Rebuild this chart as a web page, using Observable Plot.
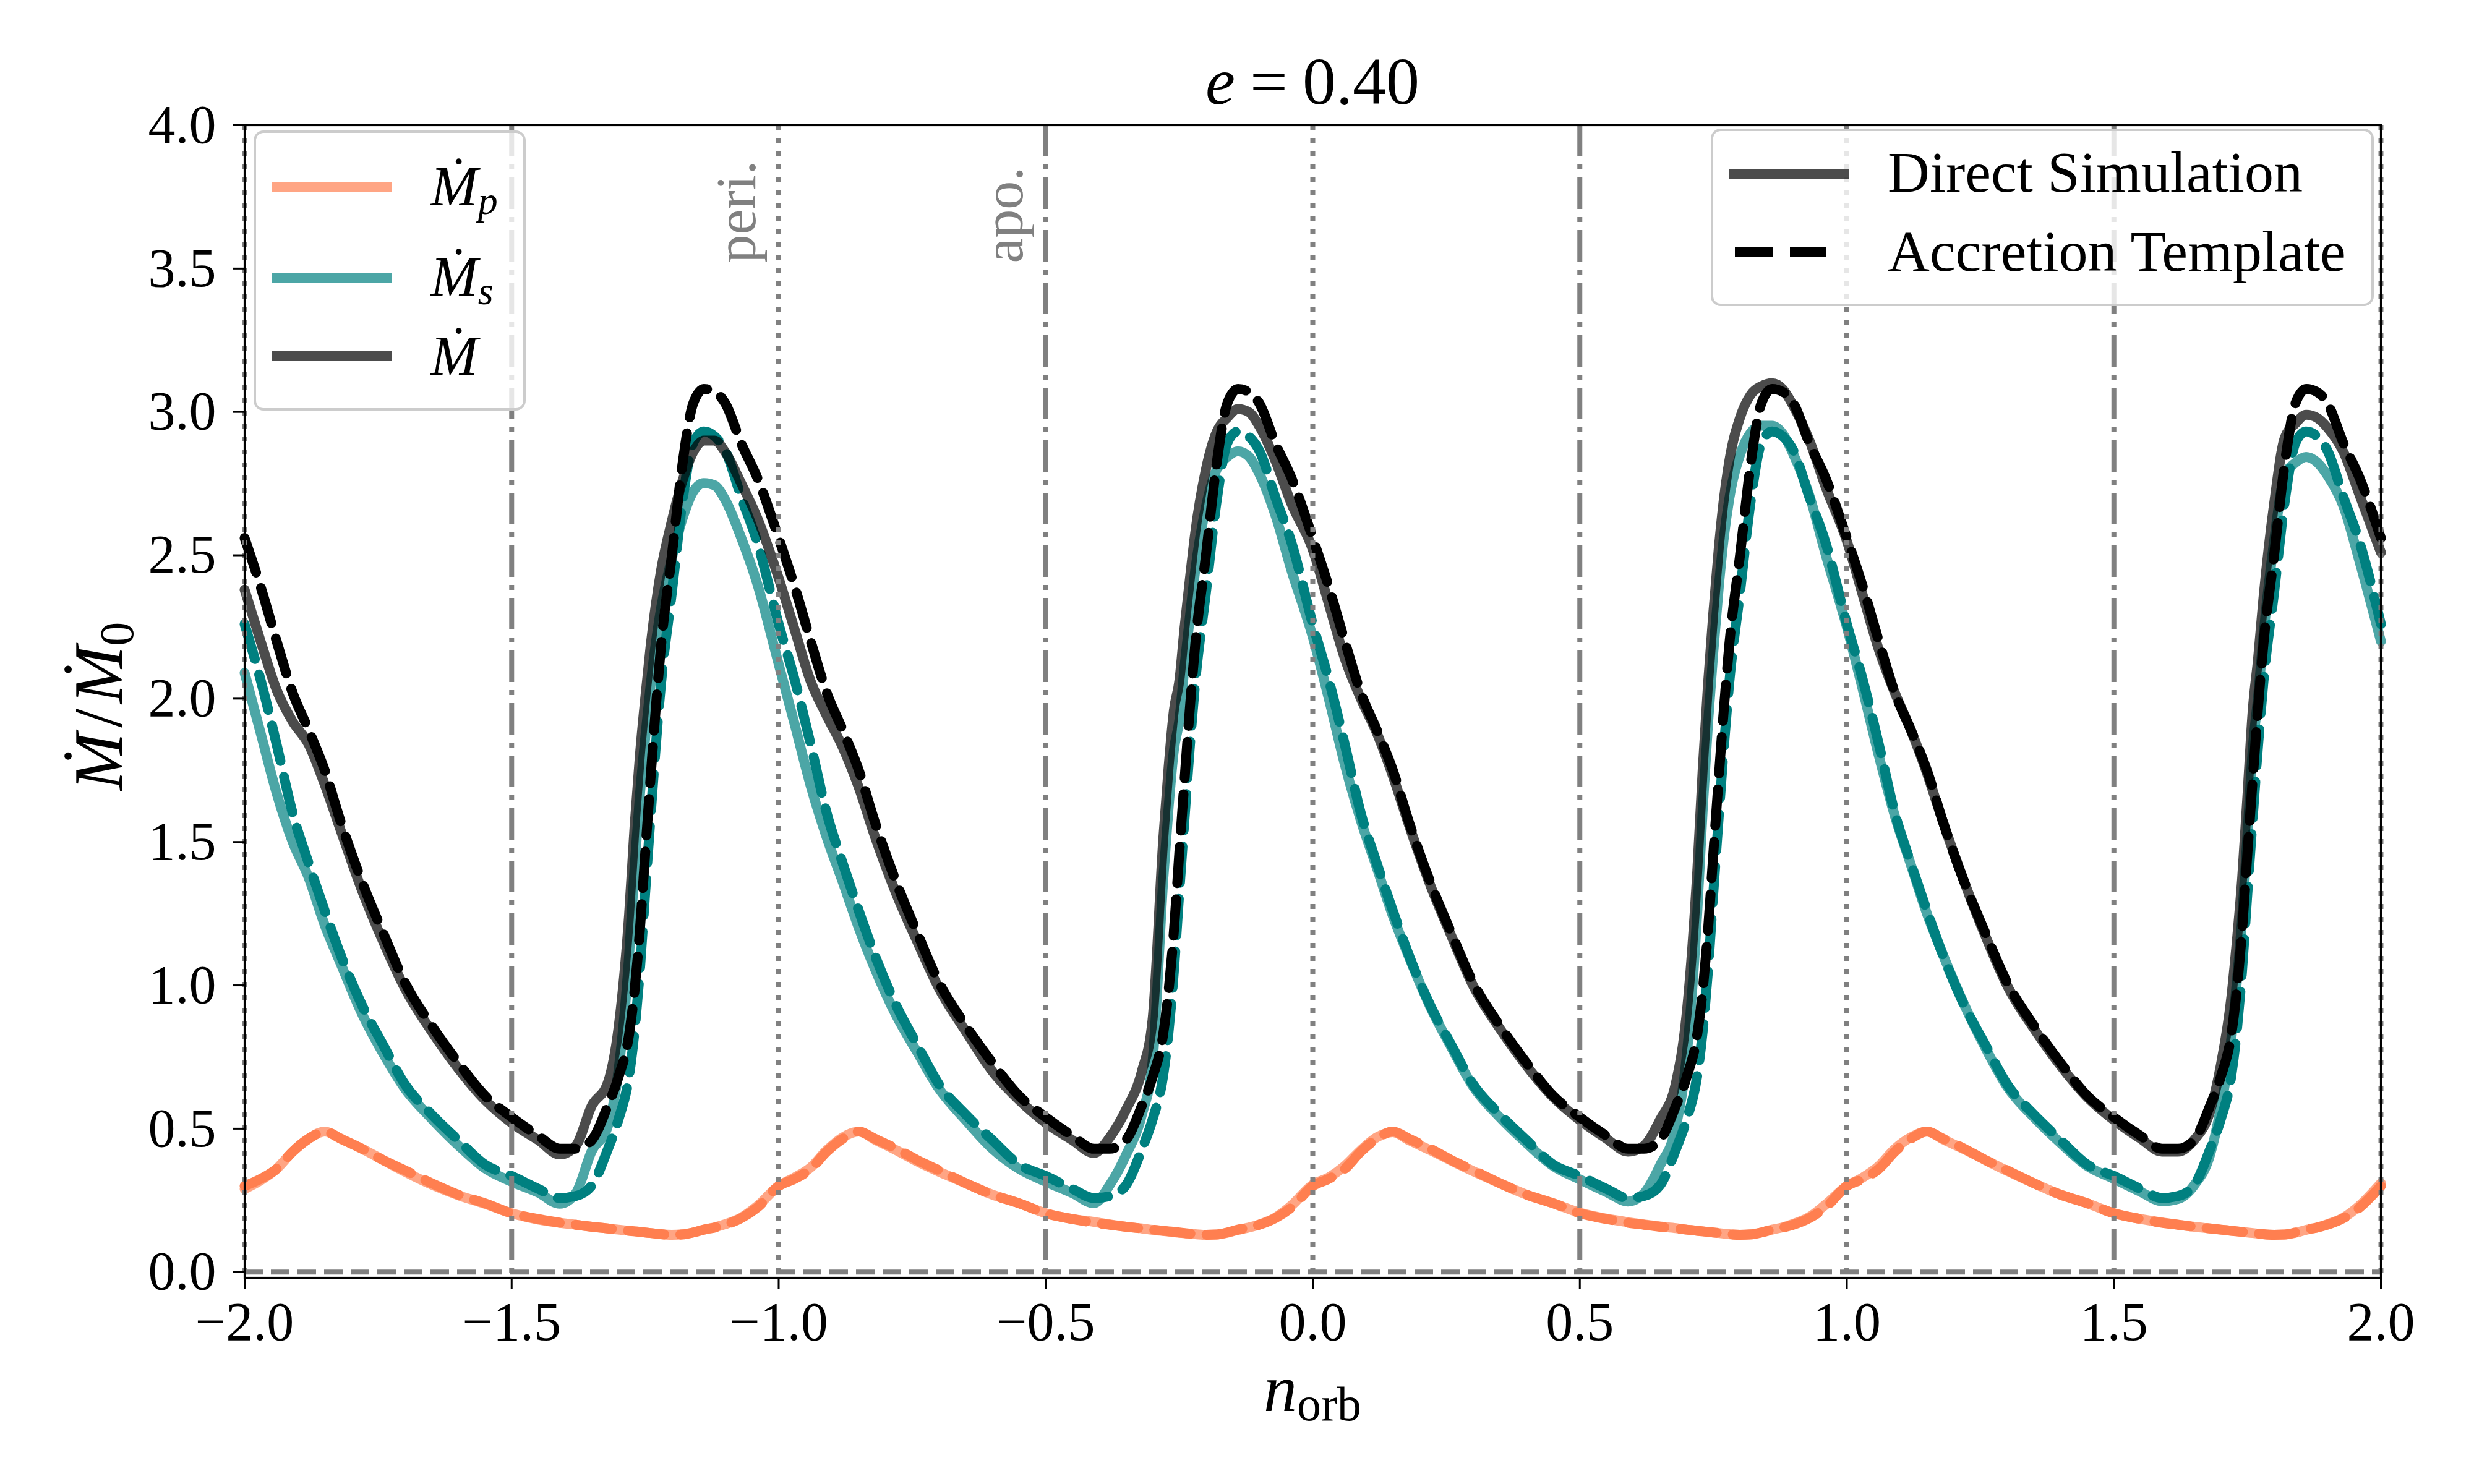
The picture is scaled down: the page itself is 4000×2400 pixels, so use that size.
<!DOCTYPE html>
<html>
<head>
<meta charset="utf-8">
<script src="https://cdn.jsdelivr.net/npm/d3@7"></script>
<script src="https://cdn.jsdelivr.net/npm/@observablehq/plot@0.6"></script>
<style>
html, body { margin: 0; padding: 0; background: #fff; }
svg { display: block; }
</style>
</head>
<body>
<div id="chart"></div>
<script>
// ---------- data ----------
// orbital phase sample positions
const n = [
  -2, -1.97, -1.94, -1.91, -1.88, -1.85, -1.82, -1.78, -1.74, -1.70, -1.65, -1.60, -1.55, -1.50, -1.45, -1.41, -1.38, -1.35, -1.32, -1.30, -1.28, -1.27, -1.26, -1.25, -1.24, -1.23, -1.22, -1.20, -1.18, -1.16, -1.14, -1.12, -1.10, -1.07, -1.04,
  -1, -0.97, -0.94, -0.91, -0.88, -0.85, -0.82, -0.78, -0.74, -0.70, -0.65, -0.60, -0.55, -0.50, -0.45, -0.41, -0.38, -0.35, -0.32, -0.30, -0.28, -0.27, -0.26, -0.25, -0.24, -0.23, -0.22, -0.20, -0.18, -0.16, -0.14, -0.12, -0.10, -0.07, -0.04,
  0, 0.03, 0.06, 0.09, 0.12, 0.15, 0.18, 0.22, 0.26, 0.30, 0.35, 0.40, 0.45, 0.50, 0.55, 0.59, 0.62, 0.65, 0.68, 0.70, 0.72, 0.73, 0.74, 0.75, 0.76, 0.77, 0.78, 0.80, 0.82, 0.84, 0.86, 0.88, 0.90, 0.93, 0.96,
  1, 1.03, 1.06, 1.09, 1.12, 1.15, 1.18, 1.22, 1.26, 1.30, 1.35, 1.40, 1.45, 1.50, 1.55, 1.59, 1.62, 1.65, 1.68, 1.70, 1.72, 1.73, 1.74, 1.75, 1.76, 1.77, 1.78, 1.80, 1.82, 1.84, 1.86, 1.88, 1.90, 1.93, 1.96,
  2
];

// Direct simulation: primary accretion rate
const mpSim = [
  0.29, 0.32, 0.36, 0.42, 0.465, 0.49, 0.465, 0.43, 0.39, 0.35, 0.305, 0.268, 0.238, 0.205, 0.183, 0.172, 0.165, 0.158, 0.152, 0.148, 0.144, 0.142, 0.14, 0.138, 0.136, 0.134, 0.132, 0.13, 0.132, 0.138, 0.148, 0.156, 0.167, 0.19, 0.23,
  0.30, 0.33, 0.365, 0.425, 0.47, 0.49, 0.462, 0.425, 0.385, 0.35, 0.31, 0.27, 0.24, 0.205, 0.185, 0.175, 0.166, 0.158, 0.152, 0.147, 0.143, 0.141, 0.139, 0.137, 0.135, 0.133, 0.132, 0.13, 0.131, 0.137, 0.147, 0.155, 0.166, 0.19, 0.232,
  0.305, 0.33, 0.37, 0.425, 0.47, 0.488, 0.46, 0.425, 0.388, 0.352, 0.31, 0.27, 0.24, 0.207, 0.186, 0.174, 0.166, 0.159, 0.153, 0.148, 0.144, 0.142, 0.14, 0.138, 0.136, 0.134, 0.132, 0.13, 0.132, 0.138, 0.148, 0.156, 0.168, 0.192, 0.235,
  0.30, 0.33, 0.37, 0.43, 0.47, 0.49, 0.463, 0.428, 0.39, 0.353, 0.31, 0.27, 0.24, 0.205, 0.185, 0.173, 0.165, 0.158, 0.152, 0.148, 0.144, 0.142, 0.14, 0.138, 0.136, 0.134, 0.132, 0.13, 0.131, 0.137, 0.147, 0.155, 0.167, 0.19, 0.232,
  0.31
];

// Accretion template: primary
const mpTpl = [
  0.30, 0.325, 0.36, 0.42, 0.465, 0.49, 0.465, 0.43, 0.39, 0.355, 0.31, 0.27, 0.24, 0.205, 0.185, 0.172, 0.165, 0.158, 0.152, 0.148, 0.144, 0.142, 0.14, 0.138, 0.136, 0.134, 0.132, 0.13, 0.131, 0.138, 0.148, 0.155, 0.165, 0.188, 0.225,
  0.30, 0.325, 0.36, 0.42, 0.465, 0.49, 0.465, 0.43, 0.39, 0.355, 0.31, 0.27, 0.24, 0.205, 0.185, 0.172, 0.165, 0.158, 0.152, 0.148, 0.144, 0.142, 0.14, 0.138, 0.136, 0.134, 0.132, 0.13, 0.131, 0.138, 0.148, 0.155, 0.165, 0.188, 0.225,
  0.30, 0.325, 0.36, 0.42, 0.465, 0.49, 0.465, 0.43, 0.39, 0.355, 0.31, 0.27, 0.24, 0.205, 0.185, 0.172, 0.165, 0.158, 0.152, 0.148, 0.144, 0.142, 0.14, 0.138, 0.136, 0.134, 0.132, 0.13, 0.131, 0.138, 0.148, 0.155, 0.165, 0.188, 0.225,
  0.30, 0.325, 0.36, 0.42, 0.465, 0.49, 0.465, 0.43, 0.39, 0.355, 0.31, 0.27, 0.24, 0.205, 0.185, 0.172, 0.165, 0.158, 0.152, 0.148, 0.144, 0.142, 0.14, 0.138, 0.136, 0.134, 0.132, 0.13, 0.131, 0.138, 0.148, 0.155, 0.165, 0.188, 0.225,
  0.30
];

// Direct simulation: secondary
const msSim = [
  2.09, 1.88, 1.67, 1.50, 1.375, 1.21, 1.075, 0.90, 0.76, 0.64, 0.535, 0.442, 0.362, 0.315, 0.277, 0.238, 0.275, 0.422, 0.508, 0.702, 1.106, 1.408, 1.66, 1.862, 2.044, 2.196, 2.318, 2.49, 2.628, 2.722, 2.752, 2.744, 2.693, 2.56, 2.40,
  2.12, 1.91, 1.695, 1.515, 1.36, 1.20, 1.058, 0.895, 0.765, 0.64, 0.53, 0.43, 0.36, 0.315, 0.275, 0.24, 0.304, 0.407, 0.548, 0.733, 1.367, 1.619, 1.821, 1.923, 2.115, 2.287, 2.448, 2.67, 2.799, 2.843, 2.863, 2.845, 2.784, 2.64, 2.448,
  2.215, 2.00, 1.77, 1.575, 1.41, 1.242, 1.10, 0.925, 0.782, 0.648, 0.54, 0.45, 0.37, 0.323, 0.279, 0.246, 0.274, 0.371, 0.507, 0.752, 1.256, 1.608, 1.91, 2.162, 2.384, 2.566, 2.698, 2.85, 2.928, 2.952, 2.952, 2.924, 2.852, 2.708, 2.505,
  2.25, 2.03, 1.80, 1.59, 1.42, 1.25, 1.107, 0.932, 0.78, 0.647, 0.54, 0.45, 0.37, 0.325, 0.28, 0.247, 0.255, 0.302, 0.408, 0.572, 0.816, 1.008, 1.23, 1.522, 1.824, 2.006, 2.218, 2.55, 2.779, 2.823, 2.843, 2.825, 2.778, 2.67, 2.478,
  2.20
];

// Accretion template: secondary
const msTpl = [
  2.26, 2.065, 1.84, 1.60, 1.425, 1.26, 1.105, 0.93, 0.79, 0.655, 0.55, 0.46, 0.375, 0.335, 0.29, 0.258, 0.265, 0.302, 0.428, 0.532, 0.686, 0.838, 1.05, 1.322, 1.584, 1.836, 2.058, 2.37, 2.689, 2.892, 2.932, 2.915, 2.865, 2.702, 2.545,
  2.26, 2.065, 1.84, 1.60, 1.425, 1.26, 1.105, 0.93, 0.79, 0.655, 0.55, 0.46, 0.375, 0.335, 0.29, 0.258, 0.265, 0.302, 0.428, 0.532, 0.686, 0.838, 1.05, 1.322, 1.584, 1.836, 2.058, 2.37, 2.689, 2.892, 2.932, 2.915, 2.865, 2.702, 2.545,
  2.26, 2.065, 1.84, 1.60, 1.425, 1.26, 1.105, 0.93, 0.79, 0.655, 0.55, 0.46, 0.375, 0.335, 0.29, 0.258, 0.265, 0.302, 0.428, 0.532, 0.686, 0.838, 1.05, 1.322, 1.584, 1.836, 2.058, 2.37, 2.689, 2.892, 2.932, 2.915, 2.865, 2.702, 2.545,
  2.26, 2.065, 1.84, 1.60, 1.425, 1.26, 1.105, 0.93, 0.79, 0.655, 0.55, 0.46, 0.375, 0.335, 0.29, 0.258, 0.265, 0.302, 0.428, 0.532, 0.686, 0.838, 1.05, 1.322, 1.584, 1.836, 2.058, 2.37, 2.689, 2.892, 2.932, 2.915, 2.865, 2.702, 2.545,
  2.26
];

// Direct simulation: total
const mSim = [
  2.38, 2.20, 2.03, 1.92, 1.84, 1.70, 1.54, 1.33, 1.15, 0.99, 0.84, 0.71, 0.60, 0.52, 0.46, 0.41, 0.44, 0.58, 0.66, 0.85, 1.25, 1.55, 1.80, 2.00, 2.18, 2.33, 2.45, 2.62, 2.76, 2.86, 2.90, 2.90, 2.86, 2.75, 2.63,
  2.42, 2.24, 2.06, 1.94, 1.83, 1.69, 1.52, 1.32, 1.15, 0.99, 0.84, 0.70, 0.60, 0.52, 0.46, 0.415, 0.47, 0.565, 0.70, 0.88, 1.51, 1.76, 1.96, 2.06, 2.25, 2.42, 2.58, 2.80, 2.93, 2.98, 3.01, 3.00, 2.95, 2.83, 2.68,
  2.52, 2.33, 2.14, 2.00, 1.88, 1.73, 1.56, 1.35, 1.17, 1.00, 0.85, 0.72, 0.61, 0.53, 0.465, 0.42, 0.44, 0.53, 0.66, 0.90, 1.40, 1.75, 2.05, 2.30, 2.52, 2.70, 2.83, 2.98, 3.06, 3.09, 3.10, 3.08, 3.02, 2.90, 2.74,
  2.55, 2.36, 2.17, 2.02, 1.89, 1.74, 1.57, 1.36, 1.17, 1.00, 0.85, 0.72, 0.61, 0.53, 0.465, 0.42, 0.42, 0.46, 0.56, 0.72, 0.96, 1.15, 1.37, 1.66, 1.96, 2.14, 2.35, 2.68, 2.91, 2.96, 2.99, 2.98, 2.945, 2.86, 2.71,
  2.51
];

// Accretion template: total
const mTpl = [
  2.56, 2.39, 2.20, 2.02, 1.89, 1.75, 1.57, 1.36, 1.18, 1.01, 0.86, 0.73, 0.615, 0.54, 0.475, 0.43, 0.43, 0.46, 0.58, 0.68, 0.83, 0.98, 1.19, 1.46, 1.72, 1.97, 2.19, 2.50, 2.82, 3.03, 3.08, 3.07, 3.03, 2.89, 2.77,
  2.56, 2.39, 2.20, 2.02, 1.89, 1.75, 1.57, 1.36, 1.18, 1.01, 0.86, 0.73, 0.615, 0.54, 0.475, 0.43, 0.43, 0.46, 0.58, 0.68, 0.83, 0.98, 1.19, 1.46, 1.72, 1.97, 2.19, 2.50, 2.82, 3.03, 3.08, 3.07, 3.03, 2.89, 2.77,
  2.56, 2.39, 2.20, 2.02, 1.89, 1.75, 1.57, 1.36, 1.18, 1.01, 0.86, 0.73, 0.615, 0.54, 0.475, 0.43, 0.43, 0.46, 0.58, 0.68, 0.83, 0.98, 1.19, 1.46, 1.72, 1.97, 2.19, 2.50, 2.82, 3.03, 3.08, 3.07, 3.03, 2.89, 2.77,
  2.56, 2.39, 2.20, 2.02, 1.89, 1.75, 1.57, 1.36, 1.18, 1.01, 0.86, 0.73, 0.615, 0.54, 0.475, 0.43, 0.43, 0.46, 0.58, 0.68, 0.83, 0.98, 1.19, 1.46, 1.72, 1.97, 2.19, 2.50, 2.82, 3.03, 3.08, 3.07, 3.03, 2.89, 2.77,
  2.56
];

const xTicks = [-2, -1.5, -1, -0.5, 0, 0.5, 1, 1.5, 2];
const yTicks = [0, 0.5, 1, 1.5, 2, 2.5, 3, 3.5, 4];
const periLines = [-2, -1, 0, 1, 2];
const apoLines = [-1.5, -0.5, 0.5, 1.5];
const zeroLine = [0];
const markers = [{at: -1, label: "peri."}, {at: -0.5, label: "apo."}];
const titleText = "0.40";
const seriesLegend = [
  {color: "coral", sub: "p"},
  {color: "teal", sub: "s"},
  {color: "black", sub: ""}
];
const styleLegend = ["Direct Simulation", "Accretion Template"];

// ---------- chart ----------
const W = 4000, H = 2400;
const mL = 395, mR = 151, mT = 202, mB = 334;
const grey = "#808080";
const LW = 16;
const DASH = "59,26";
const serif = "'Liberation Serif', 'DejaVu Serif', serif";

const simLine = (y, color) => Plot.line(n, {x: d => d, y, stroke: color, strokeOpacity: 0.7, strokeWidth: LW, curve: "monotone-x", strokeLinejoin: "round"});
const tplLine = (y, color) => Plot.line(n, {x: d => d, y, stroke: color, strokeWidth: LW, strokeDasharray: DASH, curve: "monotone-x", strokeLinejoin: "round"});

const chart = Plot.plot({
  width: W, height: H,
  marginLeft: mL, marginRight: mR, marginTop: mT, marginBottom: mB,
  style: {fontFamily: serif, fontSize: "88px", background: "white", color: "black"},
  x: {domain: [-2, 2]},
  y: {domain: [-0.02, 4]},
  marks: [
    simLine(mpSim, "coral"),
    tplLine(mpTpl, "coral"),
    simLine(msSim, "teal"),
    tplLine(msTpl, "teal"),
    simLine(mSim, "black"),
    tplLine(mTpl, "black"),
    Plot.ruleX(periLines, {stroke: grey, strokeWidth: 8, strokeDasharray: "8,13"}),
    Plot.ruleX(apoLines, {stroke: grey, strokeWidth: 8, strokeDasharray: "51,13,8,13"}),
    Plot.ruleY(zeroLine, {stroke: grey, strokeWidth: 8, strokeDasharray: "30,13"}),
    Plot.text(markers, {x: "at", text: "label", frameAnchor: "top", rotate: -90, textAnchor: "start", lineAnchor: "bottom", dx: -38, dy: 223, fill: grey, fontSize: 92}),
    Plot.frame({stroke: "black", strokeWidth: 3.2}),
    Plot.axisX({ticks: xTicks, tickFormat: d3.format(".1f"), tickSize: 18, tickPadding: 20, strokeWidth: 3, label: null}),
    Plot.axisY({ticks: yTicks, tickFormat: d3.format(".1f"), tickSize: 18, tickPadding: 28, strokeWidth: 3, label: null})
  ]
});

document.getElementById("chart").appendChild(chart);

// ---------- text overlays (title, axis labels, legends) ----------
const svg = d3.select(chart);
const fx0 = mL, fx1 = W - mR, fy0 = mT, fy1 = H - mB;
const cx = (fx0 + fx1) / 2, cy = (fy0 + fy1) / 2;

// title
const t = svg.append("text").attr("x", cx).attr("y", fy0 - 34).attr("text-anchor", "middle")
  .attr("font-family", serif).attr("font-size", 108).attr("fill", "black");
t.append("tspan").attr("font-style", "italic").text("e");
t.append("tspan").attr("dx", 24).text("=");
t.append("tspan").attr("dx", 24).text(titleText);

// x label
const xl = svg.append("text").attr("x", cx).attr("y", fy1 + 216).attr("text-anchor", "middle")
  .attr("font-family", serif).attr("font-size", 108).attr("fill", "black");
xl.append("tspan").attr("font-style", "italic").text("n");
xl.append("tspan").attr("font-size", 78).attr("dy", 15).text("orb");

// y label
const yl = svg.append("text").attr("transform", `translate(197,${cy + 8}) rotate(-90)`).attr("text-anchor", "middle")
  .attr("font-family", serif).attr("font-size", 112).attr("fill", "black");
yl.append("tspan").attr("font-style", "italic").text("Ṁ");
yl.append("tspan").attr("dx", 8).text("/");
yl.append("tspan").attr("dx", 8).attr("font-style", "italic").text("Ṁ");
yl.append("tspan").attr("font-size", 78).attr("dy", 18).text("0");

// left legend (series)
const lg = svg.append("g").attr("text-anchor", "start");
lg.append("rect").attr("x", fx0 + 17).attr("y", fy0 + 11).attr("width", 436).attr("height", 449).attr("rx", 14)
  .attr("fill", "white").attr("fill-opacity", 0.8).attr("stroke", "#cccccc").attr("stroke-width", 4);
const rowLine = [302, 449, 576];
const rowBase = [332, 478, 606];
seriesLegend.forEach((s, i) => {
  lg.append("line").attr("x1", fx0 + 45).attr("x2", fx0 + 239).attr("y1", rowLine[i]).attr("y2", rowLine[i])
    .attr("stroke", s.color).attr("stroke-opacity", 0.7).attr("stroke-width", LW);
  const tx = lg.append("text").attr("x", fx0 + 301).attr("y", rowBase[i]).attr("text-anchor", "start")
    .attr("font-family", serif).attr("font-size", 92).attr("fill", "black");
  tx.append("tspan").attr("font-style", "italic").text("Ṁ");
  if (s.sub) tx.append("tspan").attr("font-style", "italic").attr("font-size", 64).attr("dy", 14).text(s.sub);
});

// right legend (line style)
const rg = svg.append("g").attr("text-anchor", "start");
rg.append("rect").attr("x", 2768).attr("y", fy0 + 8).attr("width", fx1 - 13 - 2768).attr("height", 283).attr("rx", 14)
  .attr("fill", "white").attr("fill-opacity", 0.8).attr("stroke", "#cccccc").attr("stroke-width", 4);
rg.append("line").attr("x1", 2796).attr("x2", 2990).attr("y1", 281).attr("y2", 281)
  .attr("stroke", "black").attr("stroke-opacity", 0.7).attr("stroke-width", LW);
rg.append("line").attr("x1", 2805).attr("x2", 2953).attr("y1", 408).attr("y2", 408)
  .attr("stroke", "black").attr("stroke-width", LW).attr("stroke-dasharray", "61,28");
rg.append("text").attr("x", 3052).attr("y", 310).attr("text-anchor", "start").attr("font-family", serif)
  .attr("font-size", 94).attr("fill", "black").text(styleLegend[0]);
rg.append("text").attr("x", 3052).attr("y", 438).attr("text-anchor", "start").attr("font-family", serif)
  .attr("font-size", 94).attr("fill", "black").text(styleLegend[1]);
</script>
</body>
</html>
